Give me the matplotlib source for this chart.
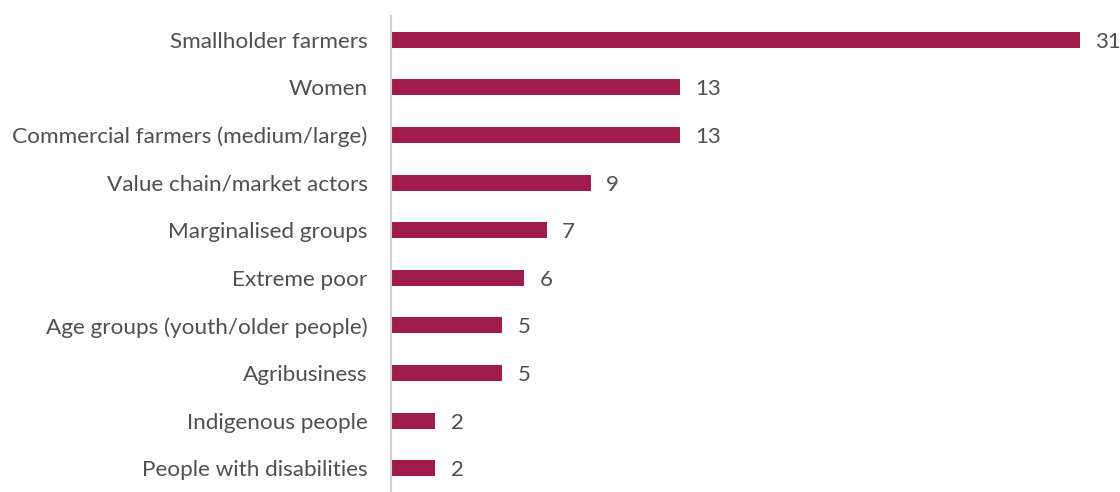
import matplotlib
matplotlib.use("Agg")
import matplotlib.pyplot as plt

plt.rcParams["font.family"] = ["Lato", "DejaVu Sans"]

groups = [
    "Smallholder farmers",
    "Women",
    "Commercial farmers (medium/large)",
    "Value chain/market actors",
    "Marginalised groups",
    "Extreme poor",
    "Age groups (youth/older people)",
    "Agribusiness",
    "Indigenous people",
    "People with disabilities",
]
counts = [31, 13, 13, 9, 7, 6, 5, 5, 2, 2]

BAR = "#A01C4C"
TXT = "#505050"

fig = plt.figure(figsize=(11.2, 4.92), dpi=100)
ax = fig.add_axes([391 / 1120, 0, 709 / 1120, 1 - 16 / 492])

y = list(range(len(groups)))
ax.barh(y, counts, height=0.34, color=BAR)
for yi, v in zip(y, counts):
    ax.annotate(str(v), (v, yi), xytext=(11, 0), textcoords="offset points",
                va="center_baseline", ha="left", fontsize=16, color=TXT)

ax.set_yticks(y)
ax.set_yticklabels(groups, fontsize=16.2, color=TXT)
ax.set_ylim(len(groups) - 0.5, -0.5)
ax.set_xlim(0, 31.9)
ax.set_xticks([])
ax.tick_params(axis="y", length=0, pad=17)
for s in ["top", "right", "bottom"]:
    ax.spines[s].set_visible(False)
ax.spines["left"].set_color("#d0d0d0")
ax.spines["left"].set_linewidth(1.5)

fig.savefig("out.png", dpi=100)
